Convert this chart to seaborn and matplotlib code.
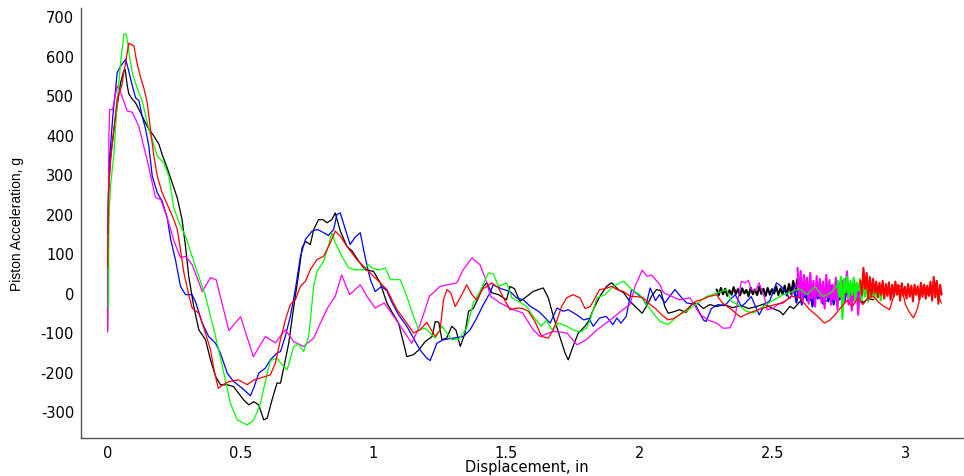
import matplotlib
matplotlib.use("Agg")
import matplotlib.pyplot as plt
import pandas as pd
import seaborn as sns

# Piston acceleration (g) versus displacement (in) for five runs.
# Each run has a main trace plus the dense rebound chatter at the end of stroke.

black_main = [
    (0.000, -95), (0.002, 100), (0.005, 280), (0.012, 350), (0.024, 414), (0.036, 473), (0.049, 532), (0.061, 562), (0.066, 565), (0.074, 524),
    (0.080, 503), (0.093, 490), (0.105, 481), (0.118, 464), (0.136, 439), (0.155, 414), (0.174, 397), (0.193, 376), (0.205, 350), (0.224, 316),
    (0.243, 278), (0.262, 240), (0.280, 185), (0.293, 117), (0.305, 41), (0.324, -35), (0.343, -94), (0.368, -119), (0.387, -170), (0.406, -212),
    (0.424, -233), (0.450, -233), (0.474, -238), (0.493, -255), (0.512, -272), (0.531, -284), (0.550, -276), (0.568, -284), (0.587, -322), (0.600, -318),
    (0.618, -272), (0.637, -229), (0.650, -229), (0.662, -191), (0.681, -128), (0.700, -35), (0.718, 46), (0.731, 113), (0.744, 130), (0.762, 122),
    (0.775, 160), (0.793, 185), (0.810, 185), (0.825, 177), (0.843, 185), (0.856, 202), (0.875, 156), (0.900, 117), (0.920, 105), (0.944, 80),
    (0.969, 58), (1.000, 54), (1.025, 25), (1.050, -26), (1.070, -50), (1.094, -77), (1.113, -128), (1.125, -162), (1.150, -157), (1.170, -145),
    (1.194, -124), (1.220, -111), (1.232, -73), (1.245, -75), (1.257, -119), (1.275, -115), (1.294, -85), (1.310, -95), (1.326, -136), (1.344, -102),
    (1.357, -47), (1.375, -40), (1.394, -13), (1.413, 16), (1.426, 25), (1.444, 0), (1.470, -5), (1.500, -18), (1.513, 16), (1.530, 10),
    (1.550, -22), (1.575, -10), (1.600, 3), (1.620, 8), (1.638, 12), (1.657, -13), (1.676, -60), (1.700, -111), (1.720, -153), (1.732, -170),
    (1.750, -136), (1.770, -102), (1.795, -85), (1.810, -70), (1.826, -43), (1.850, -10), (1.876, 16), (1.895, 25), (1.920, 8), (1.940, 0),
    (1.964, -22), (1.990, -39), (2.010, -52), (2.030, -30), (2.045, -9), (2.064, 8), (2.080, 5), (2.095, -35), (2.108, -52), (2.130, -48),
    (2.150, -43), (2.175, -50), (2.200, -26), (2.220, -28), (2.240, -40), (2.265, -30), (2.290, -35), (2.320, -30), (2.350, -38), (2.380, -32),
    (2.410, -40), (2.440, -35), (2.470, -28), (2.500, -40), (2.527, -47), (2.540, -56), (2.565, -35), (2.580, -40), (2.600, -25), (2.620, -10),
    (2.640, -20), (2.660, 0), (2.680, -15), (2.700, 5), (2.720, -22), (2.740, -8), (2.760, -18), (2.780, 3), (2.800, -20), (2.820, -5),
    (2.840, -25), (2.860, -15), (2.880, -18),
]
black_tail = [
    (2.290, 8), (2.298, -6), (2.306, 12), (2.314, -4), (2.322, 10), (2.330, -8), (2.338, 6), (2.346, -5), (2.354, 14), (2.362, -3),
    (2.370, 9), (2.378, -7), (2.386, 11), (2.394, -2), (2.402, 7), (2.410, -9), (2.418, 13), (2.426, -4), (2.434, 8), (2.442, -6),
    (2.450, 15), (2.458, -3), (2.466, 10), (2.474, -8), (2.482, 12), (2.490, -5), (2.498, 9), (2.506, -2), (2.514, 16), (2.522, -6),
    (2.530, 11), (2.538, -4), (2.546, 18), (2.554, -7), (2.562, 22), (2.570, -3), (2.578, 30), (2.586, 2), (2.594, 35),
]

blue_main = [
    (0.000, 150), (0.003, 250), (0.006, 330), (0.011, 371), (0.020, 450), (0.030, 515), (0.036, 557), (0.049, 574), (0.068, 591), (0.080, 560),
    (0.093, 524), (0.105, 494), (0.118, 486), (0.130, 447), (0.143, 414), (0.155, 371), (0.168, 295), (0.187, 253), (0.205, 232), (0.224, 190),
    (0.237, 135), (0.255, 84), (0.274, 16), (0.293, -5), (0.318, -5), (0.330, -22), (0.356, -77), (0.380, -111), (0.406, -128), (0.424, -153),
    (0.450, -204), (0.474, -225), (0.506, -242), (0.537, -261), (0.550, -240), (0.568, -204), (0.593, -191), (0.612, -170), (0.637, -153), (0.650, -149),
    (0.668, -111), (0.687, -60), (0.706, 8), (0.725, 92), (0.744, 135), (0.769, 156), (0.790, 160), (0.812, 152), (0.830, 145), (0.850, 160),
    (0.862, 198), (0.875, 202), (0.894, 160), (0.912, 122), (0.930, 140), (0.950, 152), (0.969, 88), (0.988, 33), (1.006, 3), (1.030, 16),
    (1.050, 5), (1.070, -26), (1.094, -56), (1.125, -85), (1.150, -115), (1.175, -145), (1.200, -166), (1.213, -172), (1.238, -128), (1.263, -119),
    (1.300, -115), (1.338, -111), (1.363, -94), (1.388, -64), (1.413, -30), (1.438, 0), (1.450, 20), (1.480, 10), (1.513, 3), (1.538, -13),
    (1.563, -18), (1.590, -35), (1.620, -47), (1.640, -60), (1.664, -77), (1.690, -39), (1.713, -47), (1.732, -43), (1.764, -56), (1.790, -69),
    (1.810, -65), (1.826, -85), (1.850, -64), (1.875, -60), (1.900, -81), (1.915, -64), (1.930, -77), (1.950, -60), (1.970, 8), (2.010, -13),
    (2.025, -30), (2.040, 12), (2.060, -20), (2.075, -5), (2.095, -26), (2.133, 8), (2.155, -10), (2.177, -26), (2.210, -30), (2.240, -69),
    (2.250, -73), (2.270, -40), (2.295, -30), (2.320, -33), (2.340, -18), (2.360, -5), (2.383, -35), (2.400, -25), (2.420, -10), (2.450, -56),
    (2.470, -30), (2.490, -20), (2.515, 25), (2.533, 16), (2.550, 0), (2.565, -15), (2.585, 10), (2.610, -18), (2.640, 5), (2.665, -9),
    (2.700, -22), (2.730, -9),
]
blue_tail = [
    (2.580, 15), (2.590, -25), (2.600, 20), (2.610, -30), (2.620, 10), (2.630, -20), (2.640, 25), (2.650, -35), (2.660, 5), (2.670, -15),
    (2.680, 20), (2.690, -28), (2.700, 12), (2.710, -22), (2.720, 18), (2.730, -30), (2.740, 8), (2.750, -18), (2.760, 22), (2.770, -25),
    (2.780, 10), (2.790, -15), (2.800, 15), (2.810, -20), (2.820, 5), (2.830, -10),
]

red_main = [
    (0.000, 63), (0.003, 250), (0.012, 340), (0.024, 414), (0.036, 490), (0.053, 524), (0.061, 557), (0.074, 608), (0.080, 632), (0.099, 625),
    (0.110, 583), (0.124, 545), (0.136, 519), (0.149, 481), (0.161, 414), (0.174, 346), (0.187, 295), (0.205, 253), (0.230, 215), (0.249, 185),
    (0.262, 160), (0.274, 109), (0.287, 50), (0.305, -5), (0.318, -39), (0.343, -52), (0.368, -102), (0.387, -145), (0.400, -195), (0.416, -242),
    (0.435, -233), (0.456, -225), (0.493, -221), (0.525, -233), (0.550, -221), (0.575, -216), (0.612, -208), (0.631, -178), (0.650, -119), (0.668, -70),
    (0.687, -30), (0.706, -18), (0.725, 16), (0.744, 29), (0.762, 58), (0.787, 84), (0.812, 92), (0.837, 126), (0.856, 156), (0.875, 143),
    (0.900, 117), (0.937, 84), (0.975, 58), (1.013, 33), (1.050, 8), (1.088, -43), (1.125, -77), (1.150, -102), (1.175, -94), (1.200, -75),
    (1.232, -111), (1.250, -95), (1.263, -18), (1.276, 8), (1.290, 0), (1.307, -35), (1.332, -5), (1.350, 20), (1.370, -5), (1.388, -18),
    (1.410, 10), (1.425, 15), (1.444, 25), (1.470, 12), (1.488, -13), (1.513, -43), (1.538, -39), (1.560, -40), (1.582, -47), (1.607, -73),
    (1.632, -111), (1.657, -115), (1.675, -95), (1.690, -69), (1.707, -35), (1.726, -13), (1.750, -5), (1.776, -13), (1.795, -40), (1.815, -35),
    (1.833, -13), (1.850, 8), (1.870, 10), (1.895, 16), (1.915, 8), (1.940, 3), (1.964, -9), (1.990, -10), (2.014, -13), (2.040, -30),
    (2.060, -40), (2.083, -56), (2.108, -69), (2.130, -65), (2.150, -56), (2.177, -43), (2.210, -22), (2.233, -18), (2.260, -10), (2.290, -5),
    (2.310, -25), (2.350, -45), (2.380, -62), (2.400, -55), (2.430, -47), (2.460, -40), (2.483, -35), (2.510, -30), (2.540, -26), (2.570, -9),
    (2.600, -12), (2.640, -43), (2.670, -60), (2.695, -77), (2.715, -70), (2.740, -52), (2.760, -35), (2.780, -20), (2.800, -35), (2.820, -15),
    (2.840, -30), (2.860, -12), (2.880, -10), (2.900, -25), (2.920, -35), (2.940, -43), (2.955, -10), (2.970, 20), (2.985, 15), (3.000, -30),
    (3.015, -50), (3.030, -64), (3.045, -40), (3.060, 3), (3.070, 20), (3.085, -5), (3.100, 0), (3.115, 25), (3.125, -10), (3.135, -26),
]
red_tail = [
    (2.830, 30), (2.836, -5), (2.842, 63), (2.848, 10), (2.854, 50), (2.860, -15), (2.866, 40), (2.872, -10), (2.878, 35), (2.884, 0),
    (2.890, 28), (2.896, -12), (2.902, 25), (2.908, -5), (2.914, 30), (2.920, -15), (2.926, 22), (2.932, -8), (2.938, 26), (2.944, -18),
    (2.950, 20), (2.956, -10), (2.962, 28), (2.968, -5), (2.974, 18), (2.980, -20), (2.986, 24), (2.992, -8), (2.998, 15), (3.004, -15),
    (3.010, 22), (3.016, -10), (3.022, 18), (3.028, -22), (3.034, 20), (3.040, -5), (3.046, 16), (3.052, -18), (3.058, 25), (3.064, -10),
    (3.070, 20), (3.076, -15), (3.082, 18), (3.088, -8), (3.094, 28), (3.100, -20), (3.106, 40), (3.112, -12), (3.118, 30), (3.124, -28),
    (3.130, 20), (3.136, -5),
]

green_main = [
    (0.003, -38), (0.005, 185), (0.011, 270), (0.024, 354), (0.036, 482), (0.049, 583), (0.061, 655), (0.070, 655), (0.080, 610), (0.093, 557),
    (0.110, 520), (0.130, 486), (0.155, 414), (0.187, 346), (0.211, 329), (0.230, 295), (0.249, 215), (0.270, 175), (0.293, 143), (0.330, 67),
    (0.368, -9), (0.406, -111), (0.437, -204), (0.462, -280), (0.487, -322), (0.525, -335), (0.550, -322), (0.575, -280), (0.593, -225), (0.612, -172),
    (0.637, -166), (0.662, -187), (0.675, -195), (0.700, -136), (0.718, -130), (0.737, -149), (0.756, -111), (0.775, 16), (0.787, 54), (0.812, 79),
    (0.830, 117), (0.843, 152), (0.856, 126), (0.881, 92), (0.906, 63), (0.931, 58), (0.962, 58), (0.980, 71), (1.000, 60), (1.025, 58),
    (1.044, 63), (1.063, 33), (1.100, 33), (1.125, -9), (1.150, -60), (1.170, -94), (1.194, -90), (1.213, -102), (1.232, -115), (1.257, -85),
    (1.294, -119), (1.320, -118), (1.350, -90), (1.375, -26), (1.400, 3), (1.432, 50), (1.450, 48), (1.470, 16), (1.500, 25), (1.520, -13),
    (1.545, -22), (1.576, -35), (1.600, -60), (1.630, -85), (1.650, -70), (1.670, -94), (1.695, -77), (1.726, -85), (1.750, -94), (1.776, -100),
    (1.800, -90), (1.814, -69), (1.840, -13), (1.870, -5), (1.900, 15), (1.926, 25), (1.940, 29), (1.970, 8), (2.000, -5), (2.027, -30),
    (2.050, -51), (2.077, -73), (2.108, -81), (2.140, -60), (2.180, -45), (2.210, -30), (2.250, -10), (2.295, 0), (2.327, 8), (2.345, -22),
    (2.370, -30), (2.400, -47), (2.430, -51), (2.465, -35), (2.500, -20), (2.540, -5), (2.577, 3), (2.600, 10), (2.630, -5), (2.660, 15),
    (2.690, -10), (2.720, 0), (2.745, 20),
]
green_tail = [
    (2.745, 30), (2.751, -10), (2.757, 40), (2.763, -66), (2.769, 35), (2.775, 0), (2.781, 41), (2.787, -15), (2.793, 30), (2.799, -5),
    (2.805, 38), (2.811, -20), (2.817, 25), (2.823, 5), (2.829, 35), (2.835, -18), (2.841, 30), (2.847, -10), (2.853, 28), (2.859, -22),
    (2.865, 32), (2.871, -8), (2.877, 25), (2.883, -15), (2.889, 20), (2.895, -12), (2.901, 18), (2.907, -20), (2.913, 10),
]

magenta_main = [
    (0.000, -100), (0.003, 200), (0.005, 400), (0.008, 464), (0.019, 464), (0.036, 524), (0.049, 507), (0.074, 460), (0.093, 457), (0.117, 422),
    (0.154, 321), (0.180, 241), (0.200, 236), (0.224, 190), (0.250, 130), (0.274, 89), (0.293, 92), (0.318, 71), (0.356, 3), (0.387, 38),
    (0.408, 33), (0.456, -96), (0.500, -61), (0.548, -162), (0.593, -111), (0.631, -127), (0.668, -94), (0.700, -124), (0.737, -136), (0.775, -115),
    (0.800, -77), (0.830, -35), (0.856, -9), (0.880, 45), (0.910, -5), (0.950, 20), (0.975, -9), (1.006, -39), (1.040, -26), (1.080, -64),
    (1.110, -94), (1.144, -128), (1.175, -81), (1.210, -9), (1.250, 16), (1.313, 25), (1.337, 58), (1.370, 88), (1.400, 71), (1.420, 37),
    (1.440, -9), (1.476, -26), (1.525, -43), (1.560, -51), (1.600, -94), (1.626, -111), (1.675, -98), (1.727, -102), (1.765, -132), (1.800, -119),
    (1.840, -94), (1.890, -69), (1.930, -47), (1.964, -30), (1.983, 16), (2.010, 57), (2.030, 41), (2.045, 45), (2.077, 20), (2.090, 0),
    (2.150, -18), (2.190, -13), (2.227, -55), (2.260, -70), (2.290, -77), (2.314, -90), (2.340, -89), (2.358, -64), (2.370, -18), (2.383, 29),
    (2.397, 25), (2.410, 31), (2.420, 8), (2.435, 5), (2.450, 25), (2.470, -13), (2.480, -43), (2.500, -40), (2.520, -30), (2.550, -20),
    (2.570, -10), (2.590, 20),
]
magenta_tail = [
    (2.594, 63), (2.600, -10), (2.606, 55), (2.612, -20), (2.618, 45), (2.624, -5), (2.630, 38), (2.636, -28), (2.642, 50), (2.648, -15),
    (2.654, 30), (2.660, -35), (2.666, 42), (2.672, -8), (2.678, 35), (2.684, -25), (2.690, 28), (2.696, -40), (2.702, 45), (2.708, -12),
    (2.714, 32), (2.720, -30), (2.726, 20), (2.732, -18), (2.738, 38), (2.744, -42), (2.750, 25), (2.756, -10), (2.762, 30), (2.768, -22),
    (2.774, 15), (2.780, 54), (2.786, -30), (2.792, 20), (2.798, -45), (2.804, 10), (2.810, -20), (2.816, 25), (2.822, -56), (2.828, 5),
    (2.834, -15),
]

runs = [
    ("Run 1", black_main, black_tail, "#000000"),
    ("Run 2", blue_main, blue_tail, "#0000ff"),
    ("Run 3", magenta_main, magenta_tail, "#ff00ff"),
    ("Run 4", green_main, green_tail, "#00ff00"),
    ("Run 5", red_main, red_tail, "#ff0000"),
]

frames = []
for name, main, tail, _ in runs:
    for seg, pts in (("main", main), ("tail", tail)):
        xs, ys = zip(*pts)
        frames.append(pd.DataFrame({"disp": xs, "acc": ys, "run": name, "seg": seg}))
df = pd.concat(frames, ignore_index=True)

sns.set_theme(style="white")
plt.rcParams["font.family"] = ["DejaVu Sans"]

fig = plt.figure(figsize=(9.64, 4.77), dpi=100)
ax = fig.add_axes([81 / 964, 38 / 477, 883 / 964, 430 / 477])

# thin main traces, heavier strokes for the end-of-stroke chatter
for name, _, _, color in runs:
    sub = df[df["run"] == name]
    sns.lineplot(data=sub[sub["seg"] == "main"], x="disp", y="acc", estimator=None,
                 sort=False, color=color, linewidth=0.9, legend=False, ax=ax)
    sns.lineplot(data=sub[sub["seg"] == "tail"], x="disp", y="acc", estimator=None,
                 sort=False, color=color, linewidth=1.5, legend=False, ax=ax)

ax.set_xlim(-0.1, 3.22)
ax.set_ylim(-368, 721)

xticks = [0, 0.5, 1, 1.5, 2, 2.5, 3]
xticklabels = ["0", "0.5", "1", "1.5", "2", "2.5", "3"]
yticks = [-300, -200, -100, 0, 100, 200, 300, 400, 500, 600, 700]
ax.set_xticks(xticks)
ax.set_xticklabels(xticklabels)
ax.set_yticks(yticks)
ax.set_yticklabels([str(v) for v in yticks])

for side in ("top", "right"):
    ax.spines[side].set_visible(False)
for side in ("left", "bottom"):
    ax.spines[side].set_color("#555555")
    ax.spines[side].set_linewidth(1.0)

ax.tick_params(direction="in", length=6, width=0.8, color="#555555",
               labelsize=10.5, labelcolor="black", pad=5)

ax.set_xlabel("Displacement, in", fontsize=10.5, color="black")
ax.set_ylabel("Piston Acceleration, g", fontsize=10, color="black",
              family=["Liberation Sans", "DejaVu Sans"])
ax.xaxis.set_label_coords(0.505, -0.049)
ax.yaxis.set_label_coords(-0.064, 0.5)

fig.savefig("out.png", dpi=100)
